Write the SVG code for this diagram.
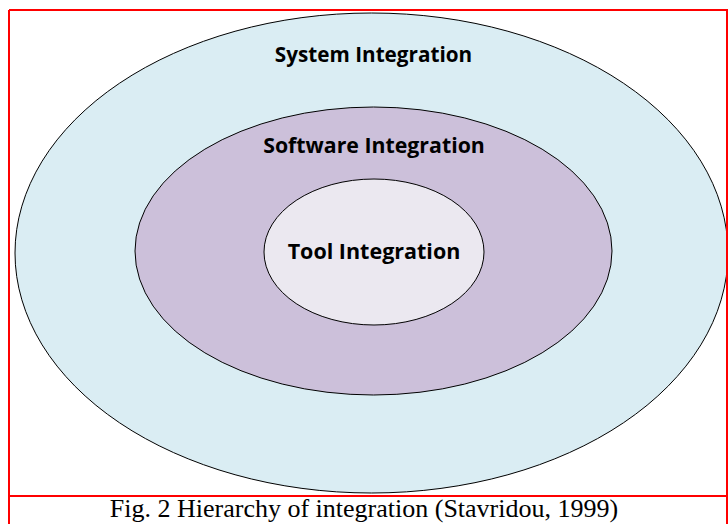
<svg xmlns="http://www.w3.org/2000/svg" width="728" height="524" viewBox="0 0 728 524">
<style>
.frame{fill:none;stroke:#ff0000;stroke-width:2}
.ell{stroke:#000;stroke-width:1}
.lbl{font-family:"Open Sans","Noto Sans",sans-serif;font-weight:bold;fill:#000;text-anchor:middle}
.cap{font-family:"Liberation Serif",serif;font-size:26px;fill:#000;text-anchor:middle}
</style>
<rect width="728" height="524" fill="#fff"/>
<g id="system">
<ellipse class="ell" cx="371.5" cy="253" rx="356.5" ry="240" fill="#daedf3"/>
<text class="lbl" x="373.5" y="62" font-size="20.7">System Integration</text>
</g>
<g id="software">
<ellipse class="ell" cx="373.5" cy="251" rx="238.5" ry="144" fill="#ccc0da"/>
<text class="lbl" x="374" y="153" font-size="21.3">Software Integration</text>
</g>
<g id="tool">
<ellipse class="ell" cx="374" cy="252" rx="110" ry="73" fill="#ebe8f0"/>
<text class="lbl" x="374" y="259" font-size="21.5">Tool Integration</text>
</g>
<g id="connectors"></g>
<path class="frame" d="M9,10 H729 M9,10 V524 M727,10 V524 M9,496 H729"/>
<text class="cap" x="364" y="517">Fig. 2 Hierarchy of integration (Stavridou, 1999)</text>
</svg>
